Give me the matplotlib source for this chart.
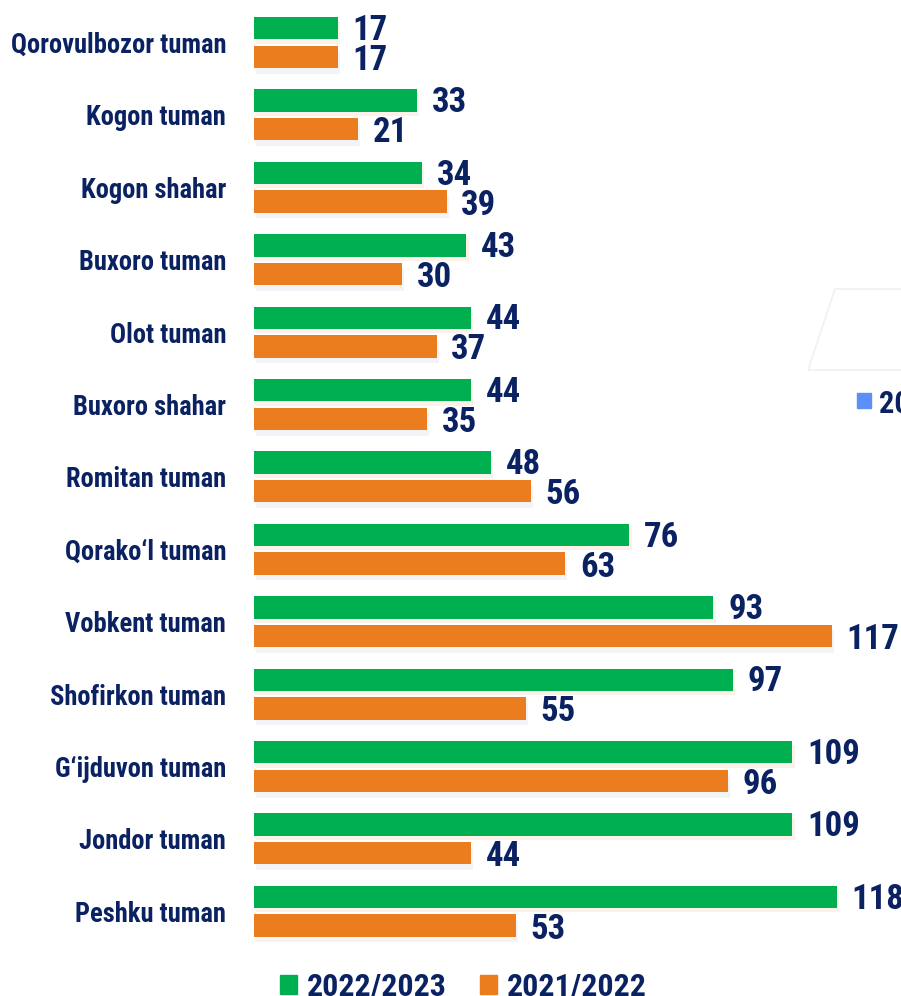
import matplotlib
matplotlib.use("Agg")
import matplotlib.pyplot as plt
from matplotlib import font_manager
from matplotlib.patches import Rectangle, Polygon
import matplotlib.patheffects as pe
import numpy as np

categories = ["Qorovulbozor tuman", "Kogon tuman", "Kogon shahar", "Buxoro tuman",
              "Olot tuman", "Buxoro shahar", "Romitan tuman", "Qorako\u2018l tuman",
              "Vobkent tuman", "Shofirkon tuman", "G\u2018ijduvon tuman", "Jondor tuman",
              "Peshku tuman"]
values_2022_2023 = [17, 33, 34, 43, 44, 44, 48, 76, 93, 97, 109, 109, 118]
values_2021_2022 = [17, 21, 39, 30, 37, 35, 56, 63, 117, 55, 96, 44, 53]
series_names = ["2022/2023", "2021/2022"]

GREEN = "#00B050"
ORANGE = "#EB7D1E"
NAVY = "#0B2262"

available = {f.name for f in font_manager.fontManager.ttflist}
family = None
for cand in ["Roboto Condensed", "Liberation Sans Narrow", "Roboto", "DejaVu Sans"]:
    if cand in available:
        family = cand
        break
plt.rcParams['font.family'] = [family, "DejaVu Sans"]

W, H = 901, 996
fig = plt.figure(figsize=(W / 100, H / 100), dpi=100)
fig.patch.set_facecolor("white")

ax_left = 254 / W
ax = fig.add_axes([ax_left, 0, 1 - ax_left, 1])
step = 72.4
ax.set_xlim(0, (W - 254) / 4.94)
ax.set_ylim((H - 42.5) / step, -42.5 / step)

y = np.arange(len(categories))
off = 14.3 / step
bh = 22.5 / step

shadow_g = [pe.SimplePatchShadow(offset=(1.5, -3), shadow_rgbFace="#FBE3D2", alpha=0.45), pe.Normal()]
shadow_o = [pe.SimplePatchShadow(offset=(1.5, -4), shadow_rgbFace="#E6EBF3", alpha=0.5), pe.Normal()]

bg = ax.barh(y - off, values_2022_2023, height=bh, color=GREEN, path_effects=shadow_g, zorder=3)
bo = ax.barh(y + off, values_2021_2022, height=bh, color=ORANGE, path_effects=shadow_o, zorder=3)

lab_kw = dict(fontsize=25, fontweight="bold", color=NAVY, va="center_baseline", ha="left", zorder=5)
for yi, v in zip(y, values_2022_2023):
    ax.annotate(str(v), (v, yi - off), xytext=(10.5, 1), textcoords="offset points", **lab_kw)
for yi, v in zip(y, values_2021_2022):
    ax.annotate(str(v), (v, yi + off), xytext=(10.5, 0), textcoords="offset points", **lab_kw)

ax.set_yticks(y)
ax.set_yticklabels(categories, fontsize=19.1, fontweight="bold", color=NAVY)
ax.tick_params(axis="y", length=0, pad=20)
ax.set_xticks([])
for s in ax.spines.values():
    s.set_visible(False)
ax.patch.set_alpha(0)

# clipped element of a neighbouring chart on the right
fig.patches.append(Polygon([[808 / W, 1 - 370 / H], [835 / W, 1 - 289 / H], [W / W + 0.01, 1 - 289 / H],
                            [W / W + 0.01, 1 - 370 / H]], closed=True, fill=False,
                           edgecolor="#F0F0F0", linewidth=1.2, transform=fig.transFigure))
fig.patches.append(Rectangle((857 / W, 1 - 408 / H), 14 / W, 15 / H, color="#5B8FF9",
                             transform=fig.transFigure))
fig.text(879 / W, 1 - 400.5 / H, "2022/2023", fontsize=22, fontweight="bold", color=NAVY,
         va="center_baseline", ha="left")

handles = [Rectangle((0, 0), 1, 1, color=GREEN), Rectangle((0, 0), 1, 1, color=ORANGE)]
leg = fig.legend(handles, series_names, loc="center", bbox_to_anchor=(0.514, 0.0095),
                 ncol=2, frameon=False, handlelength=0.54, handleheight=0.54,
                 handletextpad=0.3, columnspacing=1.05,
                 prop=dict(family=[family, "DejaVu Sans"], size=23, weight="bold"))
for t in leg.get_texts():
    t.set_color(NAVY)

fig.savefig("out.png", dpi=100, facecolor="white")
